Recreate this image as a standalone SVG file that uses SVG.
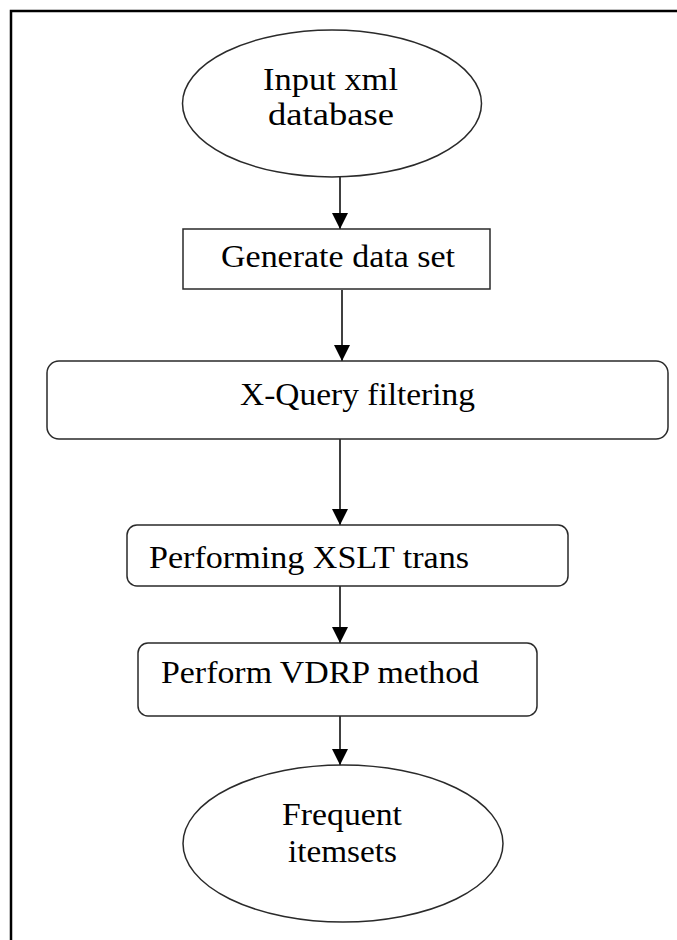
<svg xmlns="http://www.w3.org/2000/svg" width="677" height="940" viewBox="0 0 677 940">
<style>
.shape{fill:#fff;stroke:#2a2a2a;stroke-width:1.5}
.lbl{font-family:"Liberation Serif","Times New Roman",serif;font-size:32px;fill:#000}
.conn{stroke:#000;stroke-width:1.5;fill:none;marker-end:url(#ah)}
</style>
<defs>
<marker id="ah" markerUnits="userSpaceOnUse" markerWidth="18" markerHeight="16" refX="16" refY="8" orient="auto">
<path d="M0,0 L16,8 L0,16 Z" fill="#000"/>
</marker>
</defs>
<rect x="0" y="0" width="677" height="940" fill="#fff"/>
<path d="M11,945 L11,11 L690,11" fill="none" stroke="#000" stroke-width="2.5"/>
<g id="connectors">
<line class="conn" x1="340" y1="177" x2="340" y2="229"/>
<line class="conn" x1="342" y1="290" x2="342" y2="361"/>
<line class="conn" x1="340" y1="439" x2="340" y2="525"/>
<line class="conn" x1="340" y1="586" x2="340" y2="643"/>
<line class="conn" x1="340" y1="716" x2="340" y2="765"/>
</g>
<g id="n1">
<ellipse class="shape" cx="332" cy="103.5" rx="149.5" ry="73.5"/>
<text class="lbl" x="263" y="90" textLength="135" lengthAdjust="spacingAndGlyphs">Input xml</text>
<text class="lbl" x="268" y="125" textLength="126" lengthAdjust="spacingAndGlyphs">database</text>
</g>
<g id="n2">
<rect class="shape" x="183" y="229" width="307" height="60"/>
<text class="lbl" x="221" y="267" textLength="234" lengthAdjust="spacingAndGlyphs">Generate data set</text>
</g>
<g id="n3">
<rect class="shape" x="47" y="361" width="621" height="78" rx="12"/>
<text class="lbl" x="240" y="405" textLength="235" lengthAdjust="spacingAndGlyphs">X-Query filtering</text>
</g>
<g id="n4">
<rect class="shape" x="127" y="525" width="441" height="61" rx="10"/>
<text class="lbl" x="149" y="568" textLength="320" lengthAdjust="spacingAndGlyphs">Performing XSLT trans</text>
</g>
<g id="n5">
<rect class="shape" x="138" y="643" width="399" height="73" rx="10"/>
<text class="lbl" x="161" y="683" textLength="318" lengthAdjust="spacingAndGlyphs">Perform VDRP method</text>
</g>
<g id="n6">
<ellipse class="shape" cx="343" cy="843.5" rx="160" ry="78.5"/>
<text class="lbl" x="282" y="825" textLength="120" lengthAdjust="spacingAndGlyphs">Frequent</text>
<text class="lbl" x="288" y="862" textLength="109" lengthAdjust="spacingAndGlyphs">itemsets</text>
</g>
</svg>
